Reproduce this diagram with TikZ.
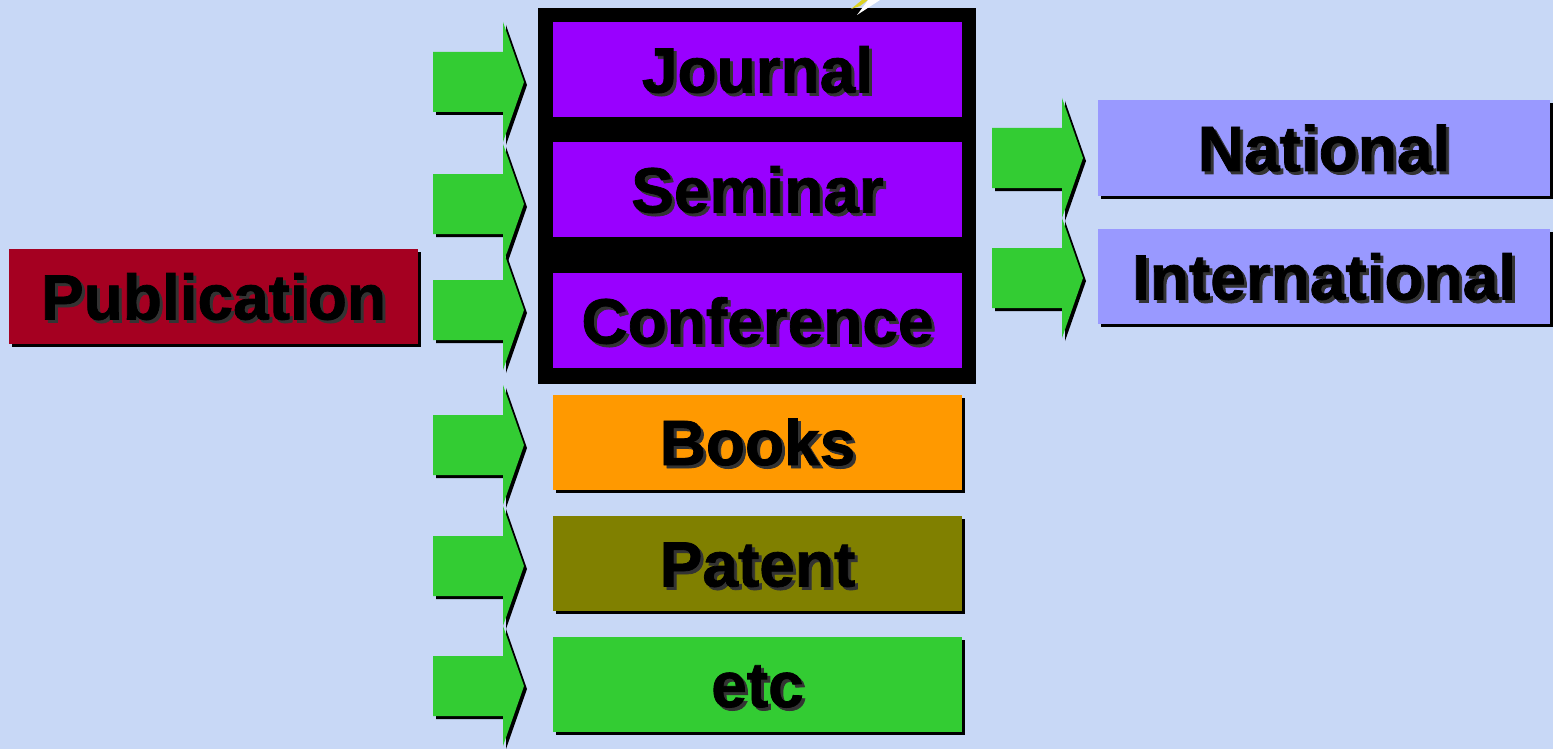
\documentclass[tikz,border=0pt]{standalone}
\usepackage{fontspec}
\setmainfont{Liberation Sans}
\newfontfamily\heavyfont{Liberation Sans Bold}[FakeBold=1.2]
\usetikzlibrary{shadows}

\definecolor{bgblue}{RGB}{200,216,246}
\definecolor{pubred}{RGB}{165,0,33}
\definecolor{pubviolet}{RGB}{153,0,255}
\definecolor{bookorange}{RGB}{255,153,0}
\definecolor{patentolive}{RGB}{128,128,0}
\definecolor{arrowgreen}{RGB}{51,204,51}
\definecolor{levellavender}{RGB}{153,153,255}

% black text with a soft shadow to the lower right
\newcommand{\shtext}[1]{\rlap{\kern3pt\raisebox{-3pt}{\color{black!80}#1}}#1}

\tikzset{
    box/.style={rectangle, inner sep=0pt, minimum width=409pt, minimum height=95pt,
        text height=46pt, text depth=0pt,
        font=\heavyfont\fontsize{64}{70}\selectfont},
    shbox/.style={box, drop shadow={shadow xshift=3pt, shadow yshift=-3pt, fill=black, opacity=1}},
    blockarrow/.pic={
        \fill[black] (3,-27) -- (73,-27) -- (73,-57) -- (94,3) -- (73,63) -- (73,33) -- (3,33) -- cycle;
        \fill[arrowgreen] (0,-30) -- (70,-30) -- (70,-60) -- (91,0) -- (70,60) -- (70,30) -- (0,30) -- cycle;
    }
}

\begin{document}
\begin{tikzpicture}[x=1pt, y=-1pt]
    \fill[bgblue] (0,0) rectangle (1553,749);
    \useasboundingbox (0,0) rectangle (1553,749);

    \fill[black] (538,8) rectangle (976,384);

    % bit of clip art peeking in at the top
    \fill[yellow!85!black] (851,9) -- (862,0) -- (868,0) -- (860,6) -- cycle;
    \fill[white] (857,15) -- (866,3) -- (868,0) -- (880,0) -- cycle;

    \foreach \y/\n in {82/a1, 204/a2, 310/a3, 445/a4, 566/a5, 686/a6}
        \pic (\n) at (433,\y) {blockarrow};
    \foreach \y/\n in {158/b1, 278/b2}
        \pic (\n) at (992,\y) {blockarrow};

    \node[shbox, fill=pubred] (publication) at (213.5,296.5) {\shtext{Publication}};

    \node[box, fill=pubviolet] (journal) at (757.5,69.5) {\shtext{Journal}};
    \node[box, fill=pubviolet] (seminar) at (757.5,189.5) {\shtext{Seminar}};
    \node[box, fill=pubviolet] (conference) at (757.5,320.5) {\shtext{Conference}};
    \node[shbox, fill=bookorange] (books) at (757.5,442) {\shtext{Books}};
    \node[shbox, fill=patentolive] (patent) at (757.5,563.5) {\shtext{Patent}};
    \node[shbox, fill=arrowgreen] (etc) at (757.5,684) {\shtext{etc}};

    \node[shbox, fill=levellavender, minimum width=452pt] (national) at (1324,148) {\shtext{National}};
    \node[shbox, fill=levellavender, minimum width=452pt] (international) at (1324,276.5) {\shtext{International}};
\end{tikzpicture}
\end{document}
